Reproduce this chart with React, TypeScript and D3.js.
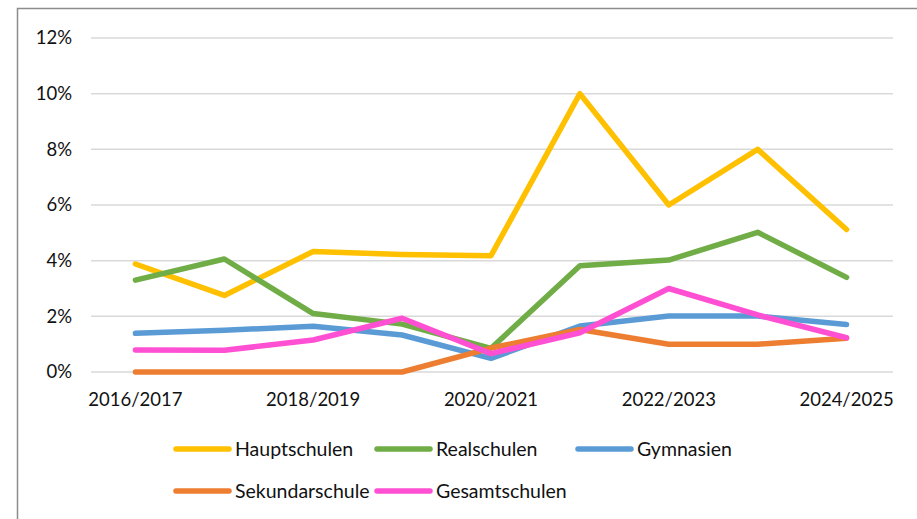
import React from "react";
import * as d3 from "d3";

const W = 917;
const H = 519;
const margin = { top: 38, right: 24, bottom: 147, left: 91 };

const years = [
  "2016/2017",
  "2017/2018",
  "2018/2019",
  "2019/2020",
  "2020/2021",
  "2021/2022",
  "2022/2023",
  "2023/2024",
  "2024/2025",
];
const shownYears = ["2016/2017", "2018/2019", "2020/2021", "2022/2023", "2024/2025"];
const yTicks = [0, 2, 4, 6, 8, 10, 12];

const hauptschulen = [3.88, 2.75, 4.33, 4.22, 4.18, 10.0, 6.0, 8.0, 5.12];
const realschulen = [3.3, 4.06, 2.1, 1.72, 0.85, 3.82, 4.02, 5.02, 3.4];
const gymnasien = [1.39, 1.5, 1.64, 1.33, 0.49, 1.65, 2.01, 2.01, 1.71];
const sekundarschule = [0, 0, 0, 0, 0.86, 1.53, 1.0, 1.0, 1.21];
const gesamtschulen = [0.79, 0.78, 1.15, 1.93, 0.66, 1.41, 3.0, 2.05, 1.23];

const series = [
  { name: "Hauptschulen", values: hauptschulen, color: "#FFC000" },
  { name: "Realschulen", values: realschulen, color: "#70AD47" },
  { name: "Gymnasien", values: gymnasien, color: "#5B9BD5" },
  { name: "Sekundarschule", values: sekundarschule, color: "#ED7D31" },
  { name: "Gesamtschulen", values: gesamtschulen, color: "#FF4FD2" },
];

const font = "Lato, 'Open Sans', sans-serif";

export default function App() {
  const x = d3
    .scaleBand()
    .domain(years)
    .range([margin.left, W - margin.right - 2]);
  const y = d3
    .scaleLinear()
    .domain([0, 12])
    .range([H - margin.bottom, margin.top]);

  const cx = (d: string) => (x(d) as number) + x.bandwidth() / 2;

  const line = d3
    .line<number>()
    .x((_, i) => cx(years[i]))
    .y(d => y(d));

  // legend grid: 3 columns, 2 rows
  const legendX = d3.scaleLinear().domain([0, 1]).range([176, 377]);
  const legendY = d3.scaleLinear().domain([0, 1]).range([449, 491]);

  return (
    <svg
      width={W}
      height={H}
      style={{ position: "absolute", left: 0, top: 0, background: "#fff" }}
      fontFamily={font}
    >
      {/* outer frame, cropped at right/bottom */}
      <path d={`M17.5,${H} V8.5 H${W}`} fill="none" stroke="#8c8c8c" strokeWidth={1.5} />

      {yTicks.map(t => (
        <g key={t}>
          <line
            x1={margin.left}
            x2={W - margin.right}
            y1={y(t)}
            y2={y(t)}
            stroke="#d9d9d9"
            strokeWidth={1.5}
          />
          <text
            x={72}
            y={y(t)}
            dy="0.35em"
            textAnchor="end"
            fontSize={18.5}
            fill="#111"
          >
            {t}%
          </text>
        </g>
      ))}

      {shownYears.map(d => (
        <text
          key={d}
          x={cx(d)}
          y={y(0) + 28}
          dy="0.35em"
          textAnchor="middle"
          fontSize={18.5}
          fill="#111"
        >
          {d}
        </text>
      ))}

      {series.map(s => (
        <path
          key={s.name}
          d={line(s.values) || ""}
          fill="none"
          stroke={s.color}
          strokeWidth={5.5}
          strokeLinejoin="round"
          strokeLinecap="round"
        />
      ))}

      {series.map((s, i) => {
        const lx = legendX(i % 3);
        const ly = legendY(Math.floor(i / 3));
        return (
          <g key={s.name} transform={`translate(${lx},${ly})`}>
            <line x1={0} x2={53} y1={0} y2={0} stroke={s.color} strokeWidth={5.5} strokeLinecap="round" />
            <text x={59} y={0} dy="0.35em" fontSize={19.5} fill="#111">
              {s.name}
            </text>
          </g>
        );
      })}
    </svg>
  );
}
